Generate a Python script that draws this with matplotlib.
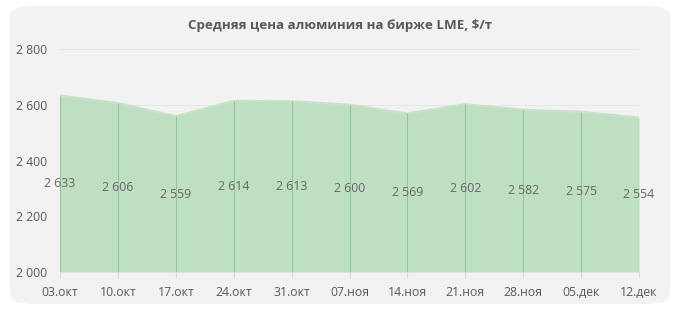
import numpy as np
import matplotlib.pyplot as plt
from matplotlib.patches import FancyBboxPatch

# Data
dates = ['03.окт', '10.окт', '17.окт', '24.окт', '31.окт', '07.ноя',
         '14.ноя', '21.ноя', '28.ноя', '05.дек', '12.дек']
prices = [2633, 2606, 2559, 2614, 2613, 2600, 2569, 2602, 2582, 2575, 2554]
yticks = [2000, 2200, 2400, 2600, 2800]

plt.rcParams['font.family'] = ['Open Sans', 'DejaVu Sans']
grey = '#595959'

fig = plt.figure(figsize=(6.78, 3.10), dpi=100)
fig.patch.set_facecolor('white')

# rounded grey card behind everything
card = FancyBboxPatch((10/678, 6/310), 660/678, 298/310,
                      boxstyle='round,pad=0,rounding_size=0.035',
                      transform=fig.transFigure, facecolor='#f2f2f2',
                      edgecolor='none', zorder=-10)
fig.patches.append(card)

ax = fig.add_axes([60/678, 1 - 272/310, 579/678, 223/310])
ax.set_zorder(1)
ax.set_facecolor('none')

x = np.arange(len(dates))
ax.fill_between(x, 2000, prices, color='#bfdfc3', linewidth=0, zorder=2)
ax.plot(x, prices, color='#c6e3ca', linewidth=1.5, zorder=3)
ax.vlines(x, 2000, prices, color='#94c49b', linewidth=0.8, zorder=4)

for xi, v in zip(x, prices):
    ax.text(xi, (2000 + v) / 2, f'{v:,}'.replace(',', ' '), ha='center',
            va='center', fontsize=8.8, color='#666666', zorder=5)

ax.set_xlim(0, len(dates) - 1)
ax.set_ylim(2000, 2800)
ax.set_yticks(yticks)
ax.set_yticklabels([f'{t:,}'.replace(',', ' ') for t in yticks])
ax.set_xticks(x)
ax.set_xticklabels(dates)
ax.tick_params(axis='y', length=0, labelsize=8.8, labelcolor=grey, pad=9)
ax.tick_params(axis='x', length=4, color='#d9d9d9', labelsize=8.8,
               labelcolor=grey, pad=6)
ax.grid(axis='y', color='#e6e6e6', linewidth=0.6, zorder=1)
for s in ax.spines.values():
    s.set_visible(False)

fig.text(340/678, 1 - 25/310, 'Средняя цена алюминия на бирже LME, $/т',
         ha='center', va='center', fontsize=9.6, fontweight='bold', color=grey)

fig.savefig('out.png', dpi=100)
